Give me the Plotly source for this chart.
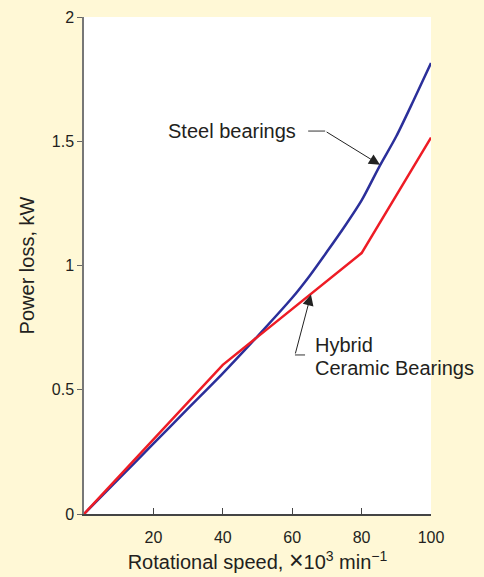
import plotly.graph_objects as go

# Data
steel_speed = [0, 10, 20, 30, 40, 50, 60, 65, 70, 75, 80, 85, 90, 95, 100]
steel_loss = [0, 0.141, 0.283, 0.425, 0.566, 0.715, 0.87, 0.958, 1.055, 1.155, 1.262, 1.395, 1.52, 1.665, 1.815]

hybrid_speed = [0, 20, 40, 80, 100]
hybrid_loss = [0, 0.30, 0.60, 1.05, 1.515]

x_ticks = [20, 40, 60, 80, 100]
y_ticks = [0, 0.5, 1, 1.5, 2]
y_tick_text = ["0", "0.5", "1", "1.5", "2"]

BG = "#FFF8D6"
TXT = "#231F20"
FONT = "Liberation Sans, Arial, Helvetica, sans-serif"

fig = go.Figure()
fig.add_trace(go.Scatter(x=steel_speed, y=steel_loss, mode="lines",
                         line=dict(color="#2B2F9A", width=2.5, shape="spline", smoothing=0.8),
                         name="Steel bearings", showlegend=False))
fig.add_trace(go.Scatter(x=hybrid_speed, y=hybrid_loss, mode="lines",
                         line=dict(color="#EE1C25", width=2.5),
                         name="Hybrid Ceramic Bearings", showlegend=False))

# leader lines (elbows)
fig.add_shape(type="line", x0=64.6, y0=1.541, x1=69.5, y1=1.541,
              line=dict(color="#333", width=1))
fig.add_shape(type="line", x0=63.7, y0=0.64, x1=60.8, y1=0.64,
              line=dict(color="#333", width=1))

anns = [
    dict(x=61.7, y=1.541, text="Steel bearings", xanchor="right", yanchor="middle",
         showarrow=False),
    dict(x=85.3, y=1.405, ax=69.5, ay=1.541, axref="x", ayref="y", text="",
         showarrow=True, arrowhead=2, arrowsize=2.2, arrowwidth=1, arrowcolor="#222"),
    dict(x=65.9, y=0.680, text="Hybrid", xanchor="left", yanchor="middle",
         showarrow=False),
    dict(x=65.9, y=0.588, text="Ceramic Bearings", xanchor="left", yanchor="middle",
         showarrow=False),
    dict(x=65.4, y=0.883, ax=60.8, ay=0.64, axref="x", ayref="y", text="",
         showarrow=True, arrowhead=2, arrowsize=2.2, arrowwidth=1, arrowcolor="#222"),
]
for a in anns:
    a.setdefault("font", dict(family=FONT, size=20, color=TXT))
    fig.add_annotation(**a)

x_title = ("Rotational speed, <span style=\"font-size:25px\">\u00d7</span>"
           "10<sup>3</sup> min<sup>\u22121</sup>")

fig.update_layout(
    width=484, height=577,
    margin=dict(l=84, r=53, t=17, b=63, autoexpand=False),
    paper_bgcolor=BG, plot_bgcolor="white",
    font=dict(family=FONT, size=16, color=TXT),
    xaxis=dict(range=[0, 100], tickvals=x_ticks, ticks="inside", ticklen=6,
               tickcolor="#444", showline=True, linecolor="#444", linewidth=1.5,
               showgrid=False, zeroline=False, ticklabelstandoff=8,
               title=dict(text=x_title, font=dict(size=20), standoff=7)),
    yaxis=dict(range=[0, 2], tickvals=y_ticks, ticktext=y_tick_text, ticks="outside",
               ticklen=5, tickcolor="#666", showline=True, linecolor="#777",
               linewidth=1.5, showgrid=False, zeroline=False,
               title=dict(text="Power loss, kW", font=dict(size=20), standoff=12)),
)

fig.write_html("out.html", config={"displayModeBar": False},
               post_script="document.body.style.margin='0';document.body.style.overflow='hidden';")
